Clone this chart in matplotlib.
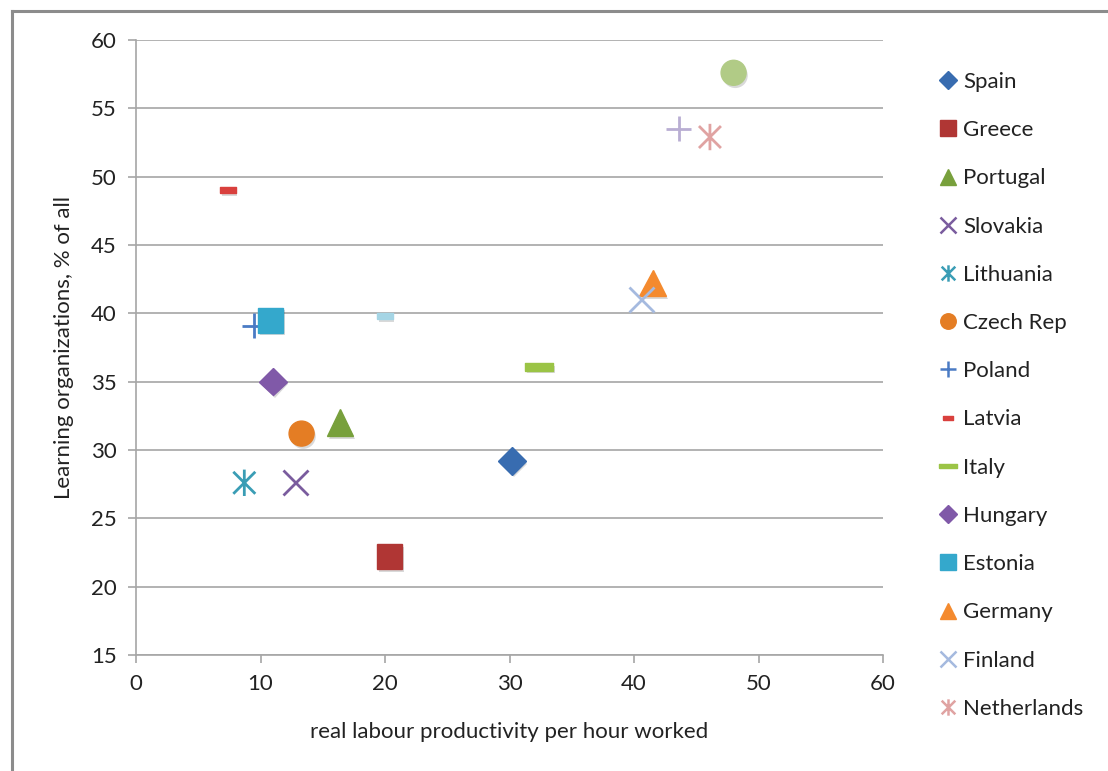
import numpy as np
import matplotlib
matplotlib.use("Agg")
from matplotlib import pyplot as plt
from matplotlib.path import Path
from matplotlib import patheffects as pe
from matplotlib.lines import Line2D

plt.rcParams['font.family'] = ['Lato', 'DejaVu Sans']

# data: one point per country
countries = ["Spain", "Greece", "Portugal", "Slovakia", "Lithuania", "Czech Rep",
             "Poland", "Latvia", "Italy", "Hungary", "Estonia", "Germany",
             "Finland", "Netherlands", "_s15", "_s16", "_s17"]
productivity = [30.2, 20.4, 16.4, 12.8, 8.7, 13.3, 9.5, 7.4, 32.4, 11.0, 10.8,
                41.5, 40.6, 46.1, 48.0, 43.6, 20.0]
learning_orgs = [29.2, 22.2, 32.0, 27.6, 27.6, 31.2, 39.1, 49.0, 36.1, 35.0, 39.5,
                 42.2, 41.0, 52.9, 57.6, 53.5, 39.8]
colors = ["#386CB0", "#B03634", "#78A03C", "#7A5C9E", "#3A9DB5", "#E47D24",
          "#4A7BC4", "#D9403D", "#9BC446", "#8059A8", "#34A8CC", "#F48A2E",
          "#A5BADF", "#E0A3A2", "#B1CB86", "#B9AED3", "#A5D5E5"]

# excel-style marker shapes
star = Path([(-1, -1), (1, 1), (-1, 1), (1, -1), (0, -1.2), (0, 1.2)],
            [Path.MOVETO, Path.LINETO, Path.MOVETO, Path.LINETO, Path.MOVETO, Path.LINETO])
short_dash = Path([(-1, -0.4), (1, -0.4), (1, 0.4), (-1, 0.4), (-1, -0.4)])
long_dash = Path([(-1, -0.28), (1, -0.28), (1, 0.28), (-1, 0.28), (-1, -0.28)])

# (marker, size, filled)
shapes = [("D", 14, True), ("s", 18, True), ("^", 19, True), ("x", 18, False),
          (star, 19, False), ("o", 18, True), ("+", 18, False), (short_dash, 11, True),
          (long_dash, 20, True), ("D", 14, True), ("s", 18, True), ("^", 19, True),
          ("x", 18, False), (star, 19, False), ("o", 18, True), ("+", 18, False),
          (short_dash, 11, True)]

fig = plt.figure(figsize=(11.08, 7.71), dpi=100)
ax = fig.add_axes([136 / 1108, 1 - 655 / 771, (883 - 136) / 1108, (655 - 40) / 771])

shadow = [pe.SimplePatchShadow(offset=(1.2, -2), alpha=0.15, shadow_rgbFace='k'), pe.Normal()]
handles = []
for i, name in enumerate(countries):
    m, ms, filled = shapes[i]
    c = colors[i]
    ln, = ax.plot([productivity[i]], [learning_orgs[i]], linestyle='none', marker=m,
                  markersize=ms, color=c, markerfacecolor=c if filled else 'none',
                  markeredgecolor=c, markeredgewidth=1.0 if filled else 2.0,
                  zorder=3 + i * 0.01, label=name)
    ln.set_path_effects(shadow)
    if not name.startswith("_"):
        handles.append(Line2D([], [], linestyle='none', marker=m, markersize=ms * 0.62,
                              color=c, markerfacecolor=c if filled else 'none',
                              markeredgecolor=c, markeredgewidth=1.0 if filled else 1.8,
                              label=name))

ax.set_xlim(0, 60)
ax.set_ylim(15, 60)
ax.set_xticks(np.arange(0, 61, 10))
ax.set_yticks(np.arange(15, 61, 5))
ax.yaxis.grid(True, color='#A6A6A6', linewidth=1.2)
ax.set_axisbelow(True)
for s in ['top', 'right']:
    ax.spines[s].set_visible(False)
for s in ['left', 'bottom']:
    ax.spines[s].set_color('#A6A6A6')
    ax.spines[s].set_linewidth(1.2)
ax.tick_params(colors='#A6A6A6', labelcolor='#222222', labelsize=16, length=6, width=1.2, pad=8)

ax.set_xlabel("real labour productivity per hour worked", fontsize=16, color='#222222', labelpad=20)
ax.set_ylabel("Learning organizations, % of all", fontsize=16, color='#222222', labelpad=12)

fig.legend(handles=handles, loc='upper left', bbox_to_anchor=(930 / 1108, 1 - 63 / 771),
           frameon=False, fontsize=16, labelspacing=1.27, handlelength=0.8,
           handletextpad=0.3, borderaxespad=0, labelcolor='#222222')

# outer chart border
fig.add_artist(Line2D([12 / 1108, 12 / 1108], [0, 1 - 11 / 771], transform=fig.transFigure,
                      color='#8C8C8C', linewidth=2.2))
fig.add_artist(Line2D([12 / 1108, 1], [1 - 11 / 771, 1 - 11 / 771], transform=fig.transFigure,
                      color='#8C8C8C', linewidth=2.2))

fig.savefig("out.png", dpi=100)
